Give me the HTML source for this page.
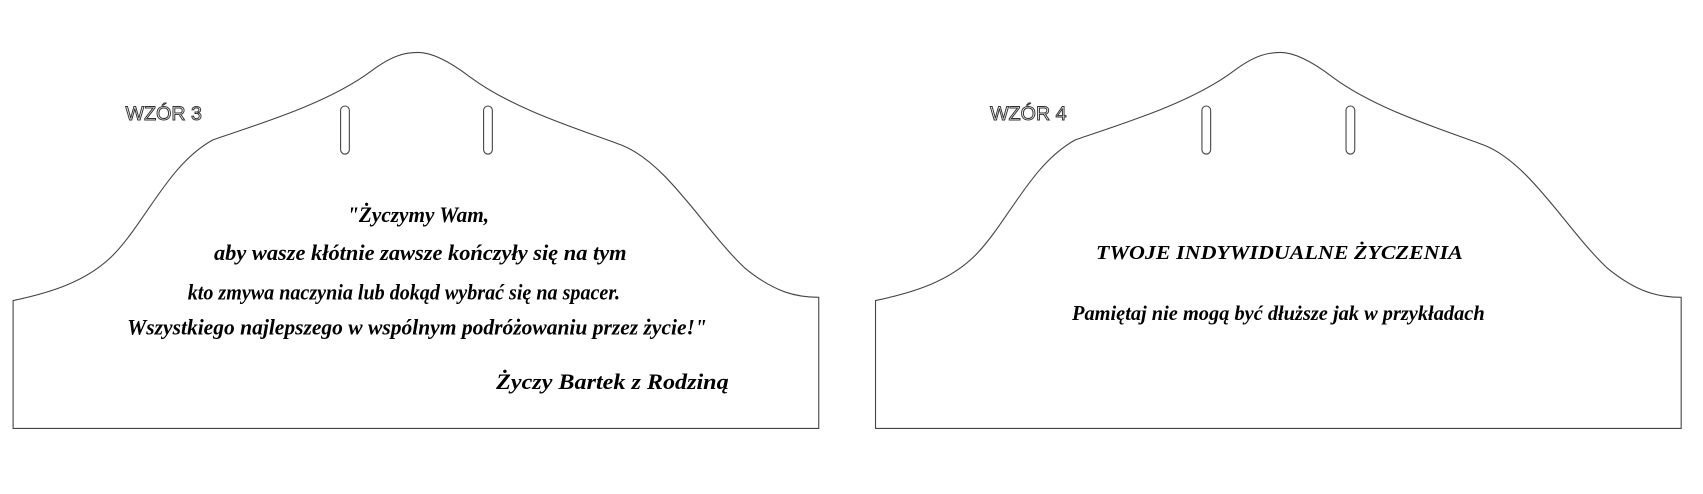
<!DOCTYPE html>
<html><head><meta charset="utf-8"><style>
html,body{margin:0;padding:0;background:#fff;width:1703px;height:494px;overflow:hidden}
svg{display:block}
.t{font-family:"Liberation Serif",serif;font-style:italic;font-size:20px;fill:#000;text-anchor:middle}
.b{font-weight:bold}
.w{font-family:"Liberation Sans",sans-serif;font-size:18px;fill:#fff;stroke:#333;stroke-width:0.9}
</style></head><body>
<svg width="1703" height="494" viewBox="0 0 1560 452" preserveAspectRatio="none">
<defs>
<path id="sh" d="M12,392 L12,275 C45,268 80,258 105,232 C135,200 155,150 195,128 C235,114 300,95 340,65 C360,50 372,48 383,48 C395,48 410,55 430,70 C470,100 530,118 570,133 C612,150 645,210 682,245 C710,268 730,272 750,272 L750,392 Z" fill="none" stroke="#444" stroke-width="1"/>
</defs>
<use href="#sh"/>
<use href="#sh" transform="translate(790,0)"/>
<rect x="312" y="97" width="8" height="44" rx="4" fill="none" stroke="#444"/>
<rect x="443" y="97" width="8" height="44" rx="4" fill="none" stroke="#444"/>
<rect x="1101" y="97" width="8" height="44" rx="4" fill="none" stroke="#444"/>
<rect x="1233" y="97" width="8" height="44" rx="4" fill="none" stroke="#444"/>
<text class="w" x="115" y="110">WZÓR 3</text>
<text class="w" x="907" y="110">WZÓR 4</text>
<text class="t b" x="383" y="203" textLength="130" lengthAdjust="spacingAndGlyphs">"Życzymy Wam,</text>
<text class="t b" x="385" y="238" textLength="378" lengthAdjust="spacingAndGlyphs">aby wasze kłótnie zawsze kończyły się na tym</text>
<text class="t b" x="370" y="274" textLength="396" lengthAdjust="spacingAndGlyphs">kto zmywa naczynia lub dokąd wybrać się na spacer.</text>
<text class="t b" x="382" y="306" textLength="531" lengthAdjust="spacingAndGlyphs">Wszystkiego najlepszego w wspólnym podróżowaniu przez życie!"</text>
<text class="t b" x="561" y="356" textLength="213" lengthAdjust="spacingAndGlyphs">Życzy Bartek z Rodziną</text>
<text class="t b" x="1172" y="237" textLength="336" lengthAdjust="spacingAndGlyphs" style="font-size:18px">TWOJE INDYWIDUALNE ŻYCZENIA</text>
<text class="t b" x="1171" y="293" textLength="378" lengthAdjust="spacingAndGlyphs" style="font-size:19px">Pamiętaj nie mogą być dłuższe jak w przykładach</text>
</svg>
</body></html>
